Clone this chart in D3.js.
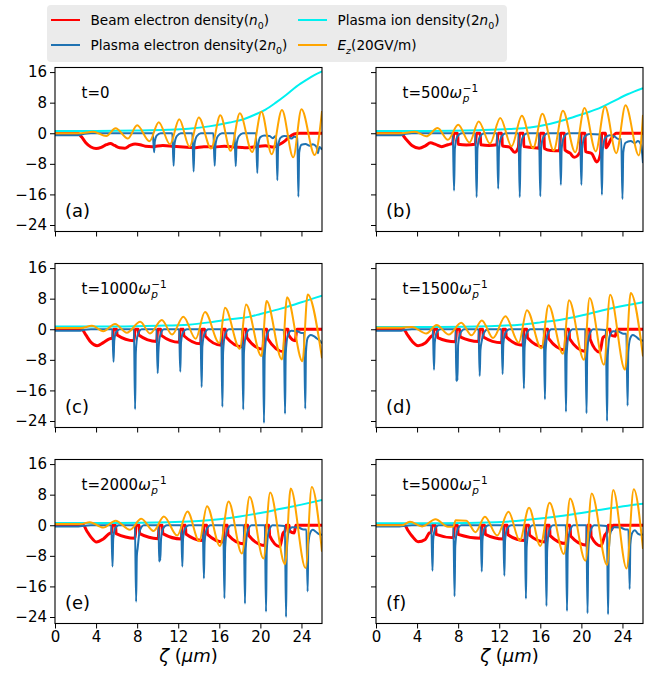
<!DOCTYPE html>
<html>
<head>
<meta charset="utf-8">
<script src="https://cdnjs.cloudflare.com/ajax/libs/d3/7.8.5/d3.min.js"></script>
<style>
  body { margin: 0; background: #fff; }
  svg { display: block; font-family: "DejaVu Sans", sans-serif; }
</style>
</head>
<body>
<svg id="chart" width="655" height="675"></svg>
<script>
// axis ticks and panel labels
const zetaTicks = [0, 4, 8, 12, 16, 20, 24];
const valueTicks = [-24, -16, -8, 0, 8, 16];
const panelTags = ['(a)', '(b)', '(c)', '(d)', '(e)', '(f)'];
const timeLabels = ['0', '500', '1000', '1500', '2000', '5000'];

// series as [zeta (um), value] pairs
// (a) t=0
const beamA = [[0,0],[2.2,0],[2.6,-1],[3.0,-2.5],[3.5,-3.6],[4.0,-4.0],[4.5,-3.7],[5.0,-3.0],[5.4,-2.7],[5.8,-3.2],[6.3,-3.8],[6.8,-3.9],[7.3,-3.2],[7.8,-2.8],[8.3,-3.0],[8.8,-3.4],[9.5,-3.5],[10.5,-3.2],[11.5,-3.4],[12.5,-3.6],[13.5,-3.8],[14.5,-3.5],[15.5,-3.6],[16.5,-3.4],[17.5,-3.6],[18.5,-3.8],[19.5,-3.5],[20.5,-3.3],[21.3,-3.6],[21.8,-3.0],[22.4,-2.0],[22.8,-1.0],[23.3,-0.2],[23.8,0],[26,0]];
const plasmaA = [[0,-0.5],[2.3,-0.5],[2.9,-0.1],[3.5,0],
  [9.52,0],[9.65,-5.0],[9.72,-2.2],[9.9,-0.6],[10.3,0],
  [11.42,0],[11.55,-8.5],[11.63,-3],[11.85,-0.8],[12.25,0],
  [13.37,0],[13.5,-10],[13.58,-3],[13.8,-0.8],[14.2,0],
  [15.42,0],[15.55,-8.5],[15.63,-3],[15.85,-0.8],[16.25,0],
  [17.47,0],[17.6,-8.6],[17.68,-3],[17.9,-0.8],[18.3,0],
  [19.57,0],[19.7,-10.4],[19.78,-3.2],[20.0,-1.0],[20.4,-0.6],[20.9,-0.7],[21.2,-1.3],[21.45,-0.8],
  [21.55,-0.8],[21.65,-12.3],[21.73,-3.5],[21.95,-1.2],[22.3,-0.7],[22.7,-0.8],[23.0,-1.4],[23.3,-0.9],
  [23.6,-1.2],[23.7,-16.6],[23.78,-5],[24.0,-3.0],[24.4,-2.8],[24.8,-3.3],[25.1,-2.9],[25.45,-3.5],[25.6,-5.2],[25.75,-3.6],[26,-4.3]];
const ionA = [[0,0.6],[4,0.6],[8,0.7],[11,0.9],[13,1.2],[15,1.8],[17,2.8],[18.5,3.8],[19.5,4.9],[20.5,6.2],[21.5,8.0],[22.5,10.0],[23.5,12.2],[24.5,14.0],[25.3,15.3],[26,16.2]];
const ezA = [[0,0],[2.5,0],[3.7,0.4],[5.0,-0.7],[5.9,1.3],[7.1,-1.4],[8.0,2.1],[9.2,-2.1],[10.1,2.9],[11.2,-2.9],[12.1,3.65],[13.1,-3.5],[14.0,4.1],[15.2,-4.0],[16.1,4.7],[17.1,-4.6],[18.0,5.2],[19.2,-4.9],[20.1,5.65],[21.1,-5.5],[22.1,6.1],[23.2,-6.3],[24.0,6.3],[25.3,-5.7],[26,5.8]];

// (b) t=500
const beamB = [[0,0],[2.4,0],[2.9,-1.5],[3.5,-3.2],[4.2,-3.9],[4.8,-3.3],[5.3,-2.5],[5.8,-2.9],[6.4,-3.5],[7.0,-3.0],[7.45,-2.6],[7.6,0],[7.95,0],[8.0,-2.9],[8.8,-3.1],[9.65,-2.9],[9.8,0],[10.15,0],[10.2,-3.0],[11.0,-3.2],[11.75,-3.0],[11.9,0],[12.25,0],[12.3,-3.3],[13.0,-3.6],[13.5,-5.0],[13.85,-3.8],[14.0,0],[14.35,0],[14.4,-3.5],[15.2,-3.7],[15.85,-3.9],[16.0,0],[16.35,0],[16.4,-4.0],[17.0,-4.5],[17.85,-4.6],[18.0,0],[18.35,0],[18.4,-4.4],[18.9,-5.2],[19.3,-6.3],[19.85,-5.0],[20.0,0],[20.35,0],[20.4,-4.8],[21.0,-5.3],[21.5,-7.5],[21.85,-5.5],[22.0,0],[22.35,0],[22.4,-3.8],[22.9,-1.5],[23.4,0],[26,0]];
const plasmaB = [[0,-0.55],[2.3,-0.55],[2.9,-0.1],[3.5,0],
  [7.47,0],[7.6,-15],[7.68,-4],[7.9,-1],[8.35,0],
  [9.67,0],[9.8,-16.7],[9.88,-4],[10.1,-1],[10.55,0],
  [11.77,0],[11.9,-14.5],[11.98,-4],[12.2,-1],[12.65,0],
  [13.87,0],[14.0,-16.7],[14.08,-4],[14.3,-1],[14.75,0],
  [15.87,0],[16.0,-16.5],[16.08,-4],[16.3,-1],[16.75,0],
  [17.87,0],[18.0,-13.5],[18.08,-4],[18.3,-1],[18.75,0],
  [19.87,0],[20.0,-13.5],[20.08,-4],[20.3,-1],[20.75,-0.2],
  [21.87,-0.3],[22.0,-16.1],[22.08,-4.5],[22.3,-1.3],[22.75,-0.5],[23.2,-0.8],[23.6,-1.5],
  [23.88,-1.5],[24.0,-17.2],[24.08,-5],[24.3,-2.5],[24.8,-2.0],[25.2,-2.6],[25.5,-2.0],[25.8,-3.0],[26,-7.8]];
const ionB = [[0,0.6],[5,0.6],[10,0.8],[13,1.1],[15,1.5],[17,2.5],[18.5,3.6],[20,4.9],[21.5,6.3],[23,8.2],[24.5,10.2],[26,11.8]];
const ezB = [[0,0],[2.5,0],[3.8,0.4],[4.9,-0.8],[6.0,1.35],[7.0,-1.7],[8.0,2.2],[9.1,-2.4],[10.0,3.1],[11.1,-2.7],[12.1,4.0],[13.2,-3.4],[14.2,4.6],[15.3,-3.9],[16.2,5.1],[17.3,-4.5],[18.2,5.9],[19.4,-5.0],[20.3,6.6],[21.4,-4.75],[22.3,7.0],[23.4,-5.2],[24.3,7.3],[25.6,-5.8],[26,4.8]];

// (c) t=1000
const beamC = [[0,0],[2.6,0],[3.0,-1.5],[3.5,-3.4],[4.1,-4.3],[4.7,-3.5],[5.3,-2.5],[5.6,-2.3],[5.7,0],
  [6.0,0],[6.05,-1.5],[7.7,-3.0],[7.8,0],
  [8.1,0],[8.15,-1.5],[9.9,-3.2],[10.0,0],
  [10.3,0],[10.35,-1.6],[12.1,-3.4],[12.2,0],
  [12.5,0],[12.55,-1.7],[14.18,-3.8],[14.28,0],
  [14.58,0],[14.63,-1.8],[16.2,-4.2],[16.3,0],
  [16.6,0],[16.65,-2.0],[18.23,-4.6],[18.33,0],
  [18.63,0],[18.68,-2.2],[20.25,-5.2],[20.35,0],
  [20.65,0],[20.7,-2.4],[22.3,-5.9],[22.4,0],
  [22.7,0],[22.75,-1.5],[23.4,-3.0],[23.55,0],[26,0]];
const plasmaC = [[0,-0.4],[2.3,-0.4],[2.9,-0.1],[3.5,0],
  [5.58,0],[5.7,-8.5],[5.77,-3],[5.95,-0.8],[6.3,0],
  [7.68,0],[7.8,-20.9],[7.87,-6],[8.05,-1.5],[8.45,0],
  [9.88,0],[10.0,-11.5],[10.07,-6],[10.2,-2],[10.6,0],
  [12.08,0],[12.2,-11.1],[12.27,-3.5],[12.45,-1],[12.85,0],
  [14.16,0],[14.28,-15.1],[14.35,-4.5],[14.55,-1.2],[14.95,0],
  [16.18,0],[16.3,-20.3],[16.37,-6],[16.55,-1.5],[16.95,0],
  [18.21,0],[18.33,-21],[18.4,-6],[18.6,-1.5],[19.0,0],
  [20.23,0],[20.35,-24.5],[20.42,-7],[20.6,-1.8],[21.0,0],
  [22.28,-0.2],[22.4,-22.1],[22.47,-6.5],[22.65,-1.8],[23.0,-0.4],[23.6,-0.5],[24.0,-1.0],
  [24.25,-1.0],[24.37,-20.8],[24.44,-6],[24.6,-2.3],[24.9,-1.5],[25.2,-1.8],[25.5,-2.4],[25.8,-3.0],[26,-3.7]];
const ionC = [[0,0.7],[6,0.7],[10,0.9],[13,1.2],[15,1.8],[17,2.6],[19,3.3],[20,4.0],[22,5.4],[23,6.2],[24.5,7.5],[26,8.8]];
const ezC = [[0,0.3],[2.5,0.3],[3.6,0.9],[4.7,-0.5],[5.85,1.4],[7.0,-0.9],[8.3,1.95],[9.25,-1.1],[10.4,2.4],[11.4,-1.4],[12.5,3.3],[13.7,-2.5],[14.6,4.5],[16.0,-3.6],[16.55,5.6],[18.0,-5.1],[18.6,6.5],[20.1,-7.0],[20.6,7.4],[22.1,-7.9],[22.6,8.4],[24.1,-8.35],[24.6,9.1],[26,-7.6]];

// (d) t=1500
const beamD = [[0,0],[2.7,0],[3.0,-1.2],[3.5,-3.1],[4.1,-4.3],[4.8,-3.6],[5.4,-1.8],[5.55,-1.5],[5.65,0],
  [5.95,0],[6.0,-2.2],[7.75,-3.3],[7.85,0],
  [8.15,0],[8.2,-2.0],[10.0,-3.2],[10.1,0],
  [10.4,0],[10.45,-2.0],[12.23,-3.5],[12.33,0],
  [12.63,0],[12.68,-2.0],[14.3,-4.2],[14.4,0],
  [14.7,0],[14.75,-2.2],[16.35,-4.6],[16.45,0],
  [16.75,0],[16.8,-2.4],[18.4,-5.4],[18.5,0],
  [18.8,0],[18.85,-2.5],[20.4,-5.8],[20.5,0],
  [20.8,0],[20.85,-2.6],[21.8,-6.0],[22.1,-2.2],[22.4,-1.6],[22.5,0],
  [22.8,0],[22.85,-1.5],[23.3,-1.8],[23.45,0],[26,0]];
const plasmaD = [[0,-0.4],[2.3,-0.4],[2.9,-0.1],[3.5,0],
  [5.53,0],[5.65,-10.6],[5.72,-3.5],[5.9,-0.9],[6.25,0],
  [7.75,0],[7.83,-13.6],[7.88,-7],[7.93,-13.4],[8.0,-4],[8.2,-1.1],[8.6,0],
  [9.98,0],[10.1,-12.2],[10.17,-5.5],[10.3,-3],[10.5,-1],[10.9,0],
  [12.21,0],[12.33,-11.7],[12.4,-3.8],[12.6,-1],[13.0,0],
  [14.28,0],[14.4,-15.5],[14.47,-4.8],[14.65,-1.2],[15.05,0],
  [16.33,0],[16.45,-18.3],[16.52,-5.5],[16.7,-1.4],[17.1,0],
  [18.38,0],[18.5,-21.6],[18.57,-6.5],[18.75,-1.6],[19.15,0],
  [20.38,0],[20.5,-22.0],[20.57,-6.5],[20.75,-1.7],[21.15,0],
  [22.38,-0.2],[22.5,-24.0],[22.57,-7],[22.75,-1.8],[23.1,-0.5],[23.6,-0.6],[24.1,-1.2],
  [24.38,-1.2],[24.5,-20.0],[24.57,-6],[24.75,-2.4],[25.0,-1.5],[25.3,-1.9],[25.6,-2.6],[26,-3.0]];
const ionD = [[0,0.6],[6,0.6],[11,0.8],[14,1.2],[16,1.8],[18,2.5],[20,3.6],[22,4.9],[24,6.1],[26,7.1]];
const ezD = [[0,0.4],[2.5,0.4],[3.5,0.6],[4.9,-1.1],[5.9,1.1],[7.1,-1.4],[8.3,1.7],[9.3,-1.6],[10.3,2.3],[11.4,-2.3],[12.6,3.4],[13.9,-3.5],[14.7,5.0],[16.1,-5.0],[16.8,6.3],[18.2,-6.4],[18.8,7.6],[20.25,-8.0],[20.8,8.2],[22.2,-9.3],[22.8,9.0],[24.25,-10.6],[24.8,9.5],[26,-7.1]];

// (e) t=2000
const beamE = [[0,0],[2.75,0],[3.1,-1.5],[3.5,-3.1],[4.05,-4.4],[4.7,-3.6],[5.35,-2.1],[5.5,-2.0],[5.6,0],
  [5.9,0],[5.95,-2.2],[7.8,-3.4],[7.9,0],
  [8.2,0],[8.25,-2.2],[10.05,-3.5],[10.15,0],
  [10.45,0],[10.5,-2.2],[12.3,-3.6],[12.4,0],
  [12.7,0],[12.75,-2.3],[14.4,-4.0],[14.5,0],
  [14.8,0],[14.85,-2.4],[16.4,-4.4],[16.5,0],
  [16.8,0],[16.85,-2.5],[18.4,-4.9],[18.5,0],
  [18.8,0],[18.85,-2.6],[20.45,-5.3],[20.55,0],
  [20.85,0],[20.9,-2.7],[21.9,-5.6],[22.2,-2.1],[22.4,-1.5],[22.5,0],
  [22.8,0],[22.85,-1.5],[23.3,-2.0],[23.45,0],[26,0]];
const plasmaE = [[0,-0.3],[2.3,-0.3],[2.9,-0.1],[3.5,0],
  [5.48,0],[5.6,-10.8],[5.67,-3.5],[5.85,-0.9],[6.2,0],
  [7.78,0],[7.9,-20.0],[7.97,-8],[8.05,-6],[8.25,-1.5],[8.65,0],
  [10.08,0],[10.15,-9.5],[10.2,-7],[10.25,-9.2],[10.33,-3.5],[10.5,-1],[10.9,0],
  [12.28,0],[12.4,-10.8],[12.47,-3.5],[12.65,-1],[13.05,0],
  [14.38,0],[14.5,-13.9],[14.57,-4.5],[14.75,-1.2],[15.15,0],
  [16.38,0],[16.5,-19.1],[16.57,-5.8],[16.75,-1.5],[17.15,0],
  [18.38,0],[18.5,-20.5],[18.57,-6.2],[18.75,-1.6],[19.15,0],
  [20.43,0],[20.55,-22.6],[20.62,-6.8],[20.8,-1.7],[21.2,0],
  [22.38,-0.2],[22.5,-24.0],[22.57,-7],[22.75,-1.8],[23.1,-0.5],[23.7,-0.6],[24.2,-1.1],
  [24.48,-1.1],[24.6,-17.3],[24.67,-5],[24.85,-2],[25.1,-1.2],[25.4,-1.7],[25.7,-2.3],[26,-2.5]];
const ionE = [[0,0.6],[6,0.6],[11,0.8],[14,1.1],[16,1.6],[18,2.3],[20,3.2],[22,4.3],[24,5.4],[26,6.6]];
const ezE = [[0,0.3],[2.5,0.3],[3.4,0.8],[4.7,-0.6],[5.9,1.15],[7.3,-1.2],[8.4,1.7],[9.6,-1.5],[10.6,2.3],[11.9,-2.7],[12.9,3.6],[14.05,-4.2],[14.8,5.0],[16.06,-5.4],[16.9,6.2],[18.2,-7.4],[18.95,7.45],[20.3,-8.7],[20.95,8.55],[22.4,-10.2],[22.95,9.6],[24.4,-11.2],[25.0,10.0],[26,-6.9]];

// (f) t=5000
const beamF = [[0,0],[2.8,0],[3.1,-1.3],[3.5,-2.8],[4.1,-4.3],[4.8,-3.7],[5.2,-2.0],[5.35,-1.9],[5.5,0],
  [5.8,0],[5.85,-2.4],[7.55,-3.3],[7.65,0],
  [7.95,0],[8.0,-2.4],[10.2,-3.4],[10.3,0],
  [10.6,0],[10.65,-2.4],[12.4,-3.6],[12.5,0],
  [12.8,0],[12.85,-2.5],[14.5,-4.0],[14.6,0],
  [14.9,0],[14.95,-2.6],[16.5,-4.4],[16.6,0],
  [16.9,0],[16.95,-2.7],[18.5,-4.8],[18.6,0],
  [18.9,0],[18.95,-2.8],[20.5,-5.2],[20.6,0],
  [20.9,0],[20.95,-2.9],[21.9,-5.4],[22.3,-2.5],[22.5,-1.8],[22.6,0],
  [22.9,0],[22.95,-1.2],[23.1,0],[26,0]];
const plasmaF = [[0,-0.3],[2.3,-0.3],[2.9,-0.1],[3.5,0],
  [5.38,0],[5.5,-11.9],[5.57,-3.8],[5.75,-1],[6.1,0],
  [7.53,0],[7.65,-18.6],[7.72,-5.5],[7.9,-1.5],[8.3,0],
  [10.18,0],[10.3,-12.1],[10.37,-3.8],[10.55,-1],[10.95,0],
  [12.38,0],[12.5,-13.2],[12.57,-4],[12.75,-1.1],[13.15,0],
  [14.48,0],[14.6,-19.2],[14.67,-5.8],[14.85,-1.5],[15.25,0],
  [16.48,0],[16.6,-21.1],[16.67,-6.3],[16.85,-1.6],[17.25,0],
  [18.48,0],[18.6,-22.4],[18.67,-6.7],[18.85,-1.7],[19.25,0],
  [20.48,0],[20.6,-23.0],[20.67,-7],[20.85,-1.8],[21.25,0],
  [22.48,-0.2],[22.6,-23.3],[22.67,-7],[22.85,-1.8],[23.2,-0.5],[23.8,-0.6],[24.3,-1.1],
  [24.58,-1.1],[24.7,-16.7],[24.77,-5],[24.95,-2],[25.2,-1.3],[25.5,-2.2],[25.8,-2.5],[26,-2.4]];
const ionF = [[0,0.55],[6,0.55],[11.75,0.8],[15,1.5],[18.2,2.5],[20,3.2],[21.5,3.9],[23,4.5],[24.5,5.1],[26,5.6]];
const ezF = [[0,0],[2.5,0],[3.3,0.9],[4.5,-0.3],[5.8,1.6],[7.0,-0.4],[7.55,-0.3],[7.75,1.3],[8.8,1.2],[9.7,-1.8],[10.6,2.2],[11.8,-2.7],[12.9,3.5],[14.0,-4.0],[14.9,4.6],[16.0,-5.4],[16.9,5.9],[18.3,-7.5],[18.9,7.0],[20.4,-9.3],[21.0,8.3],[22.5,-10.4],[23.1,9.2],[24.4,-11.3],[25.1,9.4],[26,-6.2]];

const beamSets = [beamA, beamB, beamC, beamD, beamE, beamF];
const plasmaSets = [plasmaA, plasmaB, plasmaC, plasmaD, plasmaE, plasmaF];
const ionSets = [ionA, ionB, ionC, ionD, ionE, ionF];
const ezSets = [ezA, ezB, ezC, ezD, ezE, ezF];

const colors = { beam: '#ff0000', plasma: '#1f72b2', ion: '#00f0f0', ez: '#ffa500' };

const svg = d3.select('#chart');
const colLeft = [55, 376];
const rowTop = [67.5, 263.5, 459.5];
const plotW = 267, plotH = 164;

const x = d3.scaleLinear().domain([0, 26]).range([0, plotW]);
const y = d3.scaleLinear().domain([-25.7, 17.2]).range([plotH, 0]);
const line = d3.line().x(d => x(d[0])).y(d => y(d[1])).curve(d3.curveMonotoneX);
const minus = d => d < 0 ? '\u2212' + Math.abs(d) : String(d);

panelTags.forEach((tag, i) => {
    const col = i % 2, row = Math.floor(i / 2);
    const g = svg.append('g').attr('transform', `translate(${colLeft[col]},${rowTop[row]})`);

    g.append('clipPath').attr('id', 'clip' + i)
        .append('rect').attr('width', plotW).attr('height', plotH);

    const lines = g.append('g').attr('clip-path', `url(#clip${i})`);
    const series = [
        [beamSets[i], colors.beam, 3],
        [plasmaSets[i], colors.plasma, 2],
        [ionSets[i], colors.ion, 2],
        [ezSets[i], colors.ez, 2]
    ];
    series.forEach(([pts, c, w]) => {
        lines.append('path').datum(pts)
            .attr('d', line)
            .attr('fill', 'none')
            .attr('stroke', c)
            .attr('stroke-width', w)
            .attr('stroke-linejoin', 'round');
    });

    // axes
    const yAxis = d3.axisLeft(y).tickValues(valueTicks).tickSize(5).tickPadding(3)
        .tickFormat(col === 0 ? minus : '');
    const xAxis = d3.axisBottom(x).tickValues(zetaTicks).tickSize(5).tickPadding(3)
        .tickFormat(row === 2 ? d => d : '');
    const ya = g.append('g').call(yAxis);
    const xa = g.append('g').attr('transform', `translate(0,${plotH})`).call(xAxis);
    [ya, xa].forEach(a => {
        a.select('.domain').remove();
        a.selectAll('line').attr('stroke', '#000');
        a.selectAll('text').attr('fill', '#000').attr('font-size', 15)
            .attr('font-family', '"DejaVu Sans", sans-serif');
    });

    g.append('rect').attr('width', plotW).attr('height', plotH)
        .attr('fill', 'none').attr('stroke', '#000').attr('stroke-width', 1.1);

    // time annotation
    const tx = 26.5, ty = 30.5;
    const t = g.append('text').attr('x', tx).attr('y', ty).attr('font-size', 15);
    t.append('tspan').text('t=' + timeLabels[i]);
    if (timeLabels[i] !== '0') {
        t.append('tspan').attr('font-style', 'italic').text('\u03c9');
        const w = t.node().getComputedTextLength();
        g.append('text').attr('x', tx + w + 0.5).attr('y', ty + 4)
            .attr('font-size', 10.5).attr('font-style', 'italic').text('p');
        g.append('text').attr('x', tx + w + 0.5).attr('y', ty - 6.5)
            .attr('font-size', 10.5).text('\u22121');
    }

    g.append('text').attr('x', 10).attr('y', 149).attr('font-size', 18).text(tag);

    if (row === 2) {
        const lab = g.append('text').attr('x', plotW / 2).attr('y', 202)
            .attr('text-anchor', 'middle').attr('font-size', 18);
        lab.append('tspan').attr('font-style', 'italic').text('\u03b6');
        lab.append('tspan').text(' (');
        lab.append('tspan').attr('font-style', 'italic').text('\u03bcm');
        lab.append('tspan').text(')');
    }
});

// legend
const legend = svg.append('g');
legend.append('rect').attr('x', 47).attr('y', 5).attr('width', 460).attr('height', 57)
    .attr('rx', 4).attr('fill', '#ebebeb');

const legendItems = [
    { c: colors.beam, x: 51, y: 20, parts: [['Beam electron density(', ''], ['n', 'i'], ['0', 'sub'], [')', '']] },
    { c: colors.plasma, x: 51, y: 45, parts: [['Plasma electron density(2', ''], ['n', 'i'], ['0', 'sub'], [')', '']] },
    { c: colors.ion, x: 298, y: 20, parts: [['Plasma ion density(2', ''], ['n', 'i'], ['0', 'sub'], [')', '']] },
    { c: colors.ez, x: 298, y: 45, parts: [['E', 'i'], ['z', 'isub'], ['(20GV/m)', 'back']] }
];
legendItems.forEach(it => {
    legend.append('line').attr('x1', it.x).attr('x2', it.x + 29)
        .attr('y1', it.y).attr('y2', it.y)
        .attr('stroke', it.c).attr('stroke-width', 2);
    const txt = legend.append('text').attr('x', it.x + 39.5).attr('y', it.y + 5).attr('font-size', 13.6);
    let shifted = false;
    it.parts.forEach(([s, k]) => {
        const sp = txt.append('tspan').text(s);
        if (k === 'i') sp.attr('font-style', 'italic');
        if (k === 'sub' || k === 'isub') {
            sp.attr('font-size', 9.5).attr('dy', 3.5);
            if (k === 'isub') sp.attr('font-style', 'italic');
            shifted = true;
        } else if (shifted) {
            sp.attr('dy', -3.5);
            shifted = false;
        }
    });
});
</script>
</body>
</html>
